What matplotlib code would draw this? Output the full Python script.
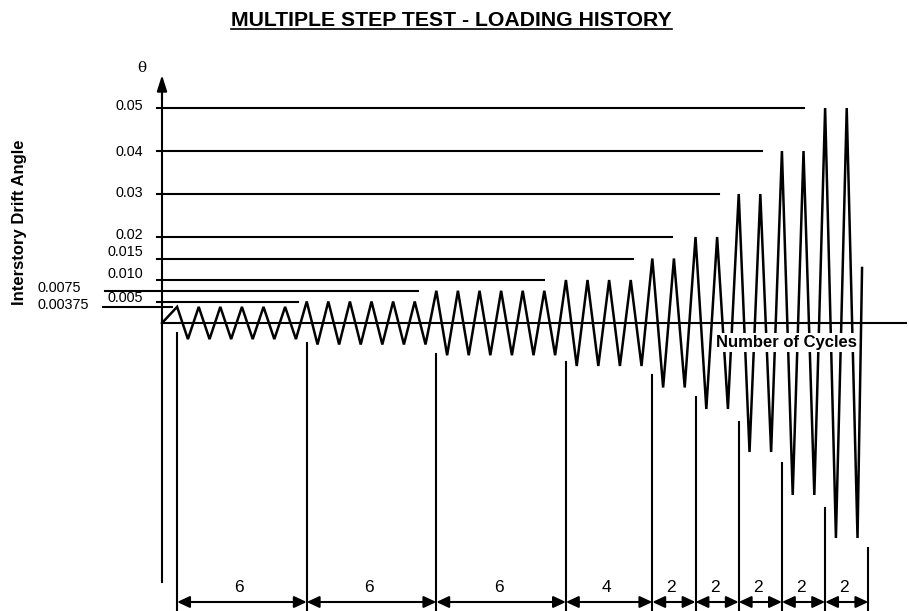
import numpy as np
import matplotlib
matplotlib.use("Agg")
import matplotlib.pyplot as plt
from matplotlib.lines import Line2D

# drift angle at each step and how many cycles are run at that step
levels = [0.00375, 0.005, 0.0075, 0.010, 0.015, 0.02, 0.03, 0.04, 0.05]
level_labels = ["0.00375", "0.005", "0.0075", "0.010", "0.015", "0.02", "0.03", "0.04", "0.05"]
cycles = [6, 6, 6, 4, 2, 2, 2, 2, 2]

# reference lines: start / end in cycles
line_start = [-2.73, -0.23, -2.64, -0.23, -0.23, -0.23, -0.23, -0.23, -0.23]
line_end = [0.46, 6.3, 11.85, 17.7, 21.8, 23.6, 25.8, 27.8, 29.7]

# upper end of the extension lines at the step boundaries (drift angle)
ext_top = [-0.0023, -0.0047, -0.0072, -0.0090, -0.0121, -0.0172, -0.0230, -0.0326, -0.0430, -0.0523]

first_peak = 0.7          # cycle position of the first peak
last_point = (32.41, 0.0128)

# page layout (pixels)
W, H = 909, 611
X0, Y0 = 162, 323          # origin of the sketch
PX_CYCLE = 21.6
PX_UNIT = 4300.0


def tx(px):
    return (px - X0) / PX_CYCLE


def ty(py):
    return (Y0 - py) / PX_UNIT


plt.rcParams["font.family"] = ["Liberation Sans", "DejaVu Sans"]

fig = plt.figure(figsize=(W / 100, H / 100), dpi=100)
ax = fig.add_axes([0, 0, 1, 1])
ax.set_xlim(tx(0), tx(W))
ax.set_ylim(ty(H), ty(0))
ax.axis("off")

# loading history
t, v = [0.0], [0.0]
k = 0
for lev, n in zip(levels, cycles):
    for i in range(n):
        t += [first_peak + k, first_peak + k + 0.5]
        v += [lev, -lev]
        k += 1
t.append(last_point[0])
v.append(last_point[1])
ax.plot(t, v, color="black", lw=1.8, solid_joinstyle="miter", zorder=2)

# reference lines and labels
label_dy = [2, 3, 3, 6, 6, 2, 1, -1, 2]
for lev, lab, x0, x1, dy in zip(levels, level_labels, line_start, line_end, label_dy):
    ax.plot([x0, x1], [lev, lev], color="black", lw=1.5)
    if x0 < -1:
        ax.text(tx(37), lev + dy / PX_UNIT, lab, ha="left", va="center", fontsize=10.4)
    else:
        ax.text(tx(143), lev + dy / PX_UNIT, lab, ha="right", va="center", fontsize=10.4)

# axes
ax.plot([0, tx(906)], [0, 0], color="black", lw=1.5)
ax.annotate("", xy=(tx(914), 0), xytext=(tx(890), 0),
            arrowprops=dict(arrowstyle="-|>,head_length=0.9,head_width=0.35", color="black",
                            lw=1.5, shrinkA=0, shrinkB=0))
ax.plot([0, 0], [ty(582), ty(85)], color="black", lw=1.5)
ax.annotate("", xy=(0, ty(75)), xytext=(0, ty(100)),
            arrowprops=dict(arrowstyle="-|>,head_length=0.95,head_width=0.3", color="black",
                            lw=1.5, shrinkA=0, shrinkB=0))
ax.text(tx(142), ty(68), "θ", ha="center", va="center", fontsize=11, family="DejaVu Serif")

# step boundaries and cycle counts
bounds = first_peak + np.concatenate([[0], np.cumsum(cycles)])
for b, top in zip(bounds, ext_top):
    ax.plot([b, b], [top, ty(H + 2)], color="black", lw=1.5)
for b0, b1, n in zip(bounds[:-1], bounds[1:], cycles):
    ax.annotate("", xy=(b1, ty(602)), xytext=(b0, ty(602)),
                arrowprops=dict(arrowstyle="<|-|>,head_length=0.75,head_width=0.35", color="black",
                                lw=1.5, shrinkA=0, shrinkB=0))
    ax.text((b0 + b1) / 2 - 0.12, ty(587), str(n), ha="center", va="center", fontsize=12.5)

ax.text(tx(716), ty(342), "Number of Cycles", ha="left", va="center", fontsize=12, fontweight="bold",
        zorder=5, bbox=dict(facecolor="white", edgecolor="none", pad=1.5))
ax.text(tx(20), ty(222), "Interstory Drift Angle", ha="center", va="center", rotation=90,
        fontsize=12, fontweight="bold")

title = fig.text(672 / W, 1 - 20 / H, "MULTIPLE STEP TEST - LOADING HISTORY", ha="right", va="center",
                 fontsize=15.3, fontweight="bold")
fig.canvas.draw()
bb = title.get_window_extent()
fig.add_artist(Line2D([bb.x0 / W, bb.x1 / W], [1 - 29 / H, 1 - 29 / H], color="black", lw=1.2,
                      transform=fig.transFigure))

fig.savefig("out.png", dpi=100)
